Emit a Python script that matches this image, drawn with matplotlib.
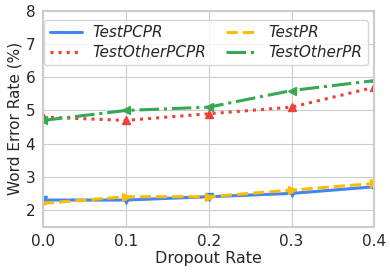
import numpy as np
import matplotlib
matplotlib.use("Agg")
import matplotlib.pyplot as plt
from matplotlib.lines import Line2D
import seaborn as sns

sns.set_style("whitegrid")

dropout = [0.0, 0.1, 0.2, 0.3, 0.4]
test_pcpr = [2.3, 2.3, 2.4, 2.5, 2.7]
test_pr = [2.2, 2.4, 2.4, 2.6, 2.8]
test_other_pcpr = [4.8, 4.7, 4.9, 5.1, 5.7]
test_other_pr = [4.7, 5.0, 5.1, 5.6, 5.9]

fig, ax = plt.subplots(figsize=(3.9, 2.73), dpi=100)

styles = [
    ("TestPCPR", test_pcpr, "#4285F4", "-", "v"),
    ("TestPR", test_pr, "#FBBC05", "--", ">"),
    ("TestOtherPCPR", test_other_pcpr, "#EA4335", ":", "^"),
    ("TestOtherPR", test_other_pr, "#34A853", "-.", "<"),
]
handles = {}
for name, vals, col, ls, mk in styles:
    ax.plot(dropout, vals, color=col, ls=ls, lw=2.2, marker=mk, ms=6)
    handles[name] = Line2D([], [], color=col, ls=ls, lw=2.2)

ax.set_xlim(0, 0.4)
ax.set_ylim(1.5, 8)
ax.set_xticks([0.0, 0.1, 0.2, 0.3, 0.4])
ax.set_yticks([2, 3, 4, 5, 6, 7, 8])
ax.tick_params(labelsize=11, pad=2)
ax.set_xlabel("Dropout Rate", fontsize=11.5, labelpad=1)
ax.set_ylabel("Word Error Rate (%)", fontsize=11, labelpad=2)
for s in ax.spines.values():
    s.set_color("#cccccc")
    s.set_linewidth(1.5)

# column-wise fill, so order gives rows PCPR/PR then Other
order = ["TestPCPR", "TestOtherPCPR", "TestPR", "TestOtherPR"]
ax.legend([handles[n] for n in order], order, ncol=2, loc="upper left",
          bbox_to_anchor=(0.0, 0.965),
          prop={"style": "italic", "size": 11}, frameon=True,
          handlelength=2.1, handletextpad=0.7, columnspacing=1.25,
          borderaxespad=0.1, labelspacing=0.3, borderpad=0.35)

plt.subplots_adjust(left=0.11, right=0.96, bottom=0.17, top=0.96)
plt.savefig("out.png")
